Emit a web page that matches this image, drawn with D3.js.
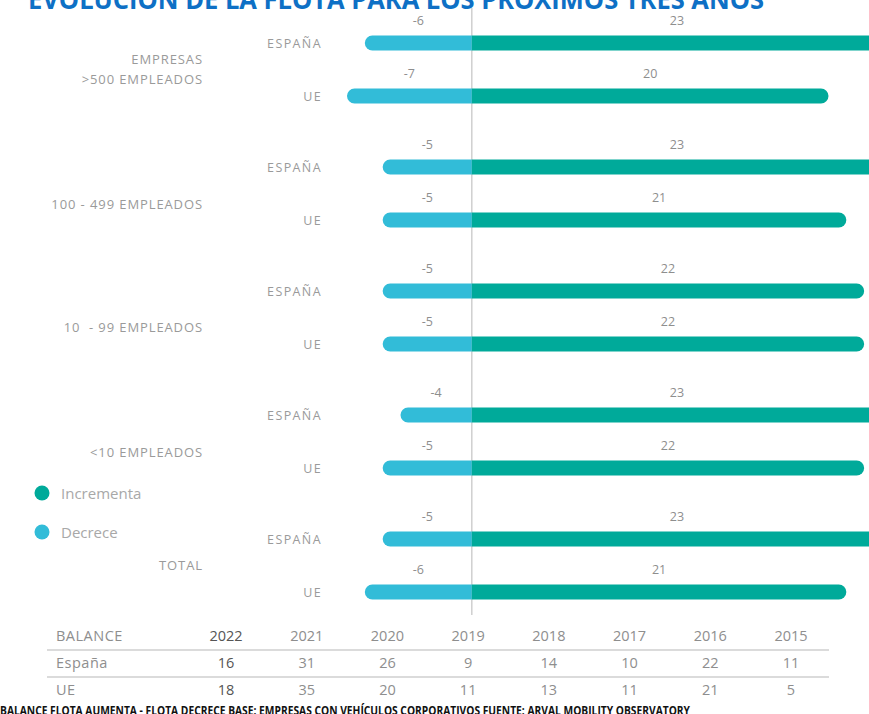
<!DOCTYPE html>
<html lang="es">
<head>
<meta charset="utf-8">
<script src="https://cdn.jsdelivr.net/npm/d3@7"></script>
<style>
  html, body { margin: 0; padding: 0; background: #ffffff; }
  svg { display: block; }
  text { font-family: "Open Sans", "Noto Sans", sans-serif; }
</style>
</head>
<body>
<svg id="chart" width="869" height="714"></svg>
<script>
// Company-size segments and the two regions compared within each
const segments = ["EMPRESAS\n>500 EMPLEADOS", "100 - 499 EMPLEADOS", "10  - 99 EMPLEADOS", "<10 EMPLEADOS", "TOTAL"];
const regions = ["ESPAÑA", "UE"];

// % of companies expecting the fleet to grow / shrink (per segment, España then UE)
const incrementaEspana = [23, 23, 22, 23, 23];
const incrementaUE     = [20, 21, 22, 22, 21];
const decreceEspana    = [-6, -5, -5, -4, -5];
const decreceUE        = [-7, -5, -5, -5, -6];

// Balance table
const balanceYears = ["2022", "2021", "2020", "2019", "2018", "2017", "2016", "2015"];
const balanceEspana = [16, 31, 26, 9, 14, 10, 22, 11];
const balanceUE     = [18, 35, 20, 11, 13, 11, 21, 5];

const legendLabels = ["Incrementa", "Decrece"];
const titleText = "EVOLUCIÓN DE LA FLOTA PARA LOS PRÓXIMOS TRES AÑOS";
const footerText = "BALANCE FLOTA AUMENTA - FLOTA DECRECE BASE: EMPRESAS CON VEHÍCULOS CORPORATIVOS FUENTE: ARVAL MOBILITY OBSERVATORY";

const COLOR_UP = "#00aa9a";
const COLOR_DOWN = "#32bcd8";
const TEXT_GREY = "#9a9a9a";

const svg = d3.select("#chart");

// Scales
const x = d3.scaleLinear().domain([-7, 23]).range([347, 882]);
const segY = d3.scalePoint().domain(segments).range([43, 539]);
const rowGap = 53;
const rowY = (seg, region) => segY(seg) + (region === "UE" ? rowGap : 0);
const barH = 15;
const r = barH / 2;

// Rows data, built from the arrays above
const rows = [];
segments.forEach((s, i) => {
  rows.push({ seg: s, region: "ESPAÑA", up: incrementaEspana[i], down: decreceEspana[i] });
  rows.push({ seg: s, region: "UE", up: incrementaUE[i], down: decreceUE[i] });
});

// Bar segment rounded only at its outer end
function halfRounded(x0, x1, yc) {
  const top = yc - r, bot = yc + r;
  if (x1 >= x0) {
    return `M${x0},${top} L${x1 - r},${top} A${r},${r} 0 0 1 ${x1 - r},${bot} L${x0},${bot} Z`;
  }
  return `M${x0},${top} L${x1 + r},${top} A${r},${r} 0 0 0 ${x1 + r},${bot} L${x0},${bot} Z`;
}

// Title (partly above the top edge)
svg.append("text")
  .attr("x", 28).attr("y", 9)
  .attr("textLength", 736).attr("lengthAdjust", "spacingAndGlyphs")
  .attr("font-family", "'Liberation Sans', Arial, sans-serif")
  .attr("font-weight", "bold").attr("font-size", 26)
  .attr("fill", "#0e70c5")
  .text(titleText);

// Zero line
svg.append("line")
  .attr("x1", x(0)).attr("x2", x(0))
  .attr("y1", 8).attr("y2", 615)
  .attr("stroke", "#c4c4c4").attr("stroke-width", 1.2);

const rowG = svg.append("g").selectAll("g").data(rows).join("g");

rowG.append("path")
  .attr("d", d => halfRounded(x(0), x(d.down), rowY(d.seg, d.region)))
  .attr("fill", COLOR_DOWN);
rowG.append("path")
  .attr("d", d => halfRounded(x(0), x(d.up), rowY(d.seg, d.region)))
  .attr("fill", COLOR_UP);

// Value labels centred over each segment
rowG.append("text")
  .attr("x", d => (x(0) + x(d.down)) / 2)
  .attr("y", d => rowY(d.seg, d.region) - 18)
  .attr("text-anchor", "middle").attr("font-size", 12.5).attr("fill", "#8e8e8e")
  .text(d => d.down);
rowG.append("text")
  .attr("x", d => (x(0) + x(d.up)) / 2)
  .attr("y", d => rowY(d.seg, d.region) - 18)
  .attr("text-anchor", "middle").attr("font-size", 12.5).attr("fill", "#8e8e8e")
  .text(d => d.up);

// Region labels
rowG.append("text")
  .attr("x", 322)
  .attr("y", d => rowY(d.seg, d.region) + 4.5)
  .attr("text-anchor", "end").attr("font-size", 12.5).attr("letter-spacing", 1.4)
  .attr("fill", TEXT_GREY)
  .text(d => d.region);

// Segment labels
const segShift = [0, 11, 10, 11, 0];
segments.forEach((s, i) => {
  const lines = s.split("\n");
  const mid = segY(s) + rowGap / 2 + segShift[i];
  const t = svg.append("text")
    .attr("text-anchor", "end").attr("font-size", 13).attr("letter-spacing", 0.9)
    .attr("fill", TEXT_GREY);
  lines.forEach((ln, j) => {
    t.append("tspan")
      .attr("x", 203)
      .attr("y", mid + 4.5 + (j - (lines.length - 1) / 2) * 20)
      .attr("xml:space", "preserve")
      .text(ln);
  });
});

// Legend
const legend = svg.append("g").selectAll("g").data(legendLabels).join("g")
  .attr("transform", (d, i) => `translate(42, ${493 + i * 39})`);
legend.append("circle").attr("r", 7.5).attr("fill", (d, i) => i === 0 ? COLOR_UP : COLOR_DOWN);
legend.append("text")
  .attr("x", 19).attr("y", 5.5)
  .attr("font-size", 15).attr("fill", "#a8a8a8")
  .text(d => d);

// Balance table
const colX = d3.scalePoint().domain(balanceYears).range([226, 791]);
const tableRows = [
  { label: "BALANCE", values: balanceYears, y: 641 },
  { label: "España", values: balanceEspana, y: 668 },
  { label: "UE", values: balanceUE, y: 695 }
];
const table = svg.append("g");
tableRows.forEach(row => {
  table.append("text")
    .attr("x", 56).attr("y", row.y)
    .attr("font-size", 14.5).attr("letter-spacing", 0.5).attr("fill", "#8e8e8e")
    .text(row.label);
  row.values.forEach((v, i) => {
    table.append("text")
      .attr("x", colX(balanceYears[i])).attr("y", row.y)
      .attr("text-anchor", "middle").attr("font-size", 14.5)
      .attr("fill", i === 0 ? "#555555" : "#8e8e8e")
      .text(v);
  });
});
[650, 677].forEach(yy => {
  table.append("line")
    .attr("x1", 47).attr("x2", 829).attr("y1", yy).attr("y2", yy)
    .attr("stroke", "#cfcfcf").attr("stroke-width", 1.5);
});

// Footer note (runs off the bottom edge)
svg.append("text")
  .attr("x", 0).attr("y", 715)
  .attr("textLength", 690).attr("lengthAdjust", "spacingAndGlyphs")
  .attr("font-family", "'Liberation Sans Narrow', 'DejaVu Sans Condensed', sans-serif")
  .attr("font-weight", "bold").attr("font-size", 13)
  .attr("fill", "#111111")
  .text(footerText);
</script>
</body>
</html>
